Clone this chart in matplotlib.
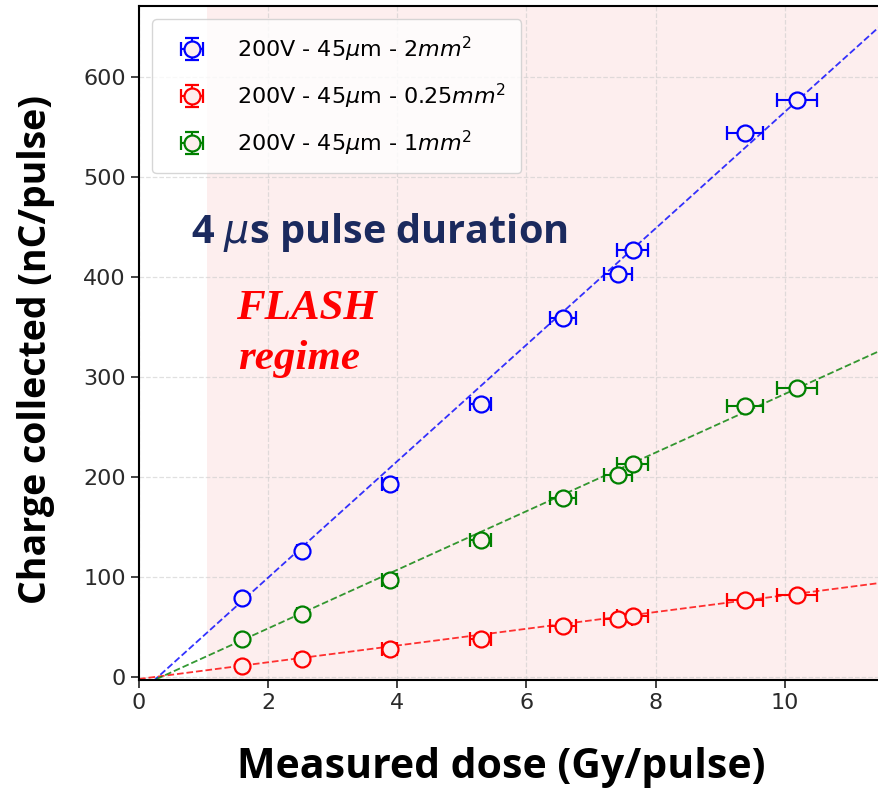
import numpy as np
import matplotlib
matplotlib.use("Agg")
import matplotlib.pyplot as plt

# ---- data ----
dose = [1.60, 2.52, 3.88, 5.29, 6.56, 7.42, 7.65, 9.39, 10.19]
dose_err = [0.05, 0.08, 0.12, 0.16, 0.20, 0.22, 0.24, 0.28, 0.31]
charge_2mm2 = [79, 126, 193, 273, 359, 403, 427, 544, 577]
charge_025mm2 = [11, 18, 28, 38, 51, 58, 61, 77, 82]
charge_1mm2 = [38, 63, 97, 137, 179, 202, 213, 271, 289]
labels = [r"200V - 45$\mu$m - 2$mm^2$",
          r"200V - 45$\mu$m - 0.25$mm^2$",
          r"200V - 45$\mu$m - 1$mm^2$"]
colors = ["blue", "red", "green"]
# linear fit parameters (slope, intercept)
fit_slope = [58.2, 8.37, 29.3]
fit_intercept = [-17.0, -2.0, -10.0]
flash_start = 1.05
xticks = [0, 2, 4, 6, 8, 10]
yticks = [0, 100, 200, 300, 400, 500, 600]

W, H = 879, 795
fig = plt.figure(figsize=(W / 100, H / 100), dpi=100)
ax = fig.add_axes([139 / W, 1 - 680 / H, (879 - 139) / W, (680 - 6) / H])

xmax = 11.46
ax.set_xlim(0, xmax)
ax.set_ylim(-3, 671)

shade = "#fdeeee"
ax.axvspan(flash_start, xmax + 1, color=shade, zorder=0, lw=0)
ax.grid(True, ls="--", color="#cccccc", alpha=0.6, lw=0.9, zorder=0.5)

series = [charge_2mm2, charge_025mm2, charge_1mm2]
xfit = np.linspace(0, xmax + 0.5, 50)
for ys, c, lab, m, b in zip(series, colors, labels, fit_slope, fit_intercept):
    ys = np.array(ys, dtype=float)
    ax.errorbar(dose, ys, xerr=dose_err, yerr=ys * 0.005, fmt="o", mfc=shade,
                mec=c, ecolor=c, ms=11.5, mew=1.6, elinewidth=1.5, capsize=5,
                capthick=1.5, label=lab, zorder=3)
    ax.plot(xfit, m * xfit + b, ls="--", color=c, lw=1.3, alpha=0.8, zorder=2)

ax.set_xticks(xticks)
ax.set_yticks(yticks)
ax.tick_params(labelsize=16, length=6, width=1.2, colors="#222222", labelcolor="#2a2a2a")
for s in ["left", "bottom", "top"]:
    ax.spines[s].set_linewidth(1.5)
ax.spines["right"].set_visible(False)

leg = ax.legend(loc="upper left", fontsize=16, borderpad=0.7, labelspacing=0.8,
                handletextpad=0.9, handlelength=2.2, framealpha=0.8,
                bbox_to_anchor=(0.003, 0.997))

ax.text(0.81, 444, r"4 $\mu$s pulse duration", fontsize=28.5, fontweight="bold",
        family="Open Sans", color="#1b2a5e", va="center", ha="left")
ax.text(1.5, 368, "FLASH", fontsize=31, fontweight="bold", style="italic",
        family="Liberation Serif", color="red", va="center", ha="left")
ax.text(1.53, 318, "regime", fontsize=31, fontweight="bold", style="italic",
        family="Liberation Serif", color="red", va="center", ha="left")

ax.set_xlabel("Measured dose (Gy/pulse)", fontsize=29.5, fontweight="bold", family="Open Sans")
ax.set_ylabel("Charge collected (nC/pulse)", fontsize=27, fontweight="bold", family="Open Sans")
ax.xaxis.set_label_coords(0.49, -0.1)
ax.yaxis.set_label_coords(-0.113, 0.49)

fig.savefig("out.png", dpi=100)
